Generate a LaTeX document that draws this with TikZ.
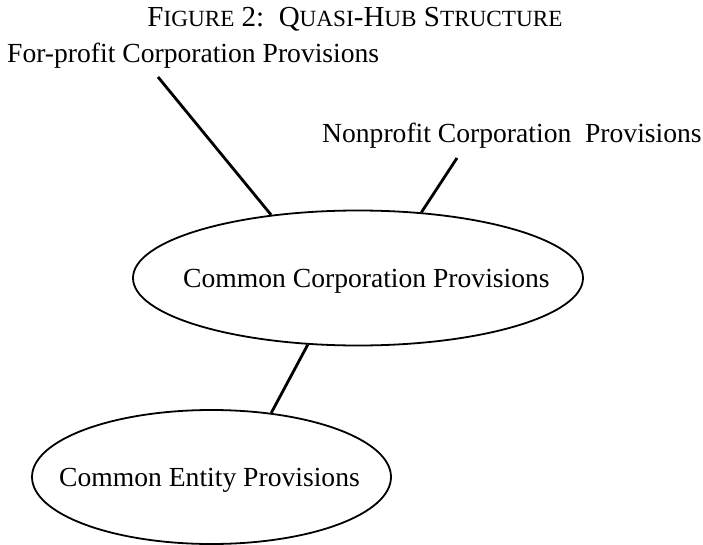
\documentclass[tikz,border=0pt]{standalone}
\usepackage{fontspec}
\setmainfont{Liberation Serif}
\usetikzlibrary{shapes.geometric}
\newcommand\tinysc[1]{{\fontsize{23.2}{26}\selectfont #1}}
\tikzset{
  lbl/.style={inner sep=0pt, font=\fontsize{27.6}{30}\selectfont},
  ttl/.style={inner sep=0pt, font=\fontsize{29}{32}\selectfont},
  oval/.style={ellipse, draw, line width=1.8pt, inner sep=0pt},
  link/.style={line width=2.8pt}
}
\begin{document}
\begin{tikzpicture}[x=1pt,y=-1pt]
\useasboundingbox (0,0) rectangle (703,545);
\node[ttl, anchor=base] (title) at (355,27) {F\tinysc{IGURE} 2:\ \ Q\tinysc{UASI}-H\tinysc{UB} S\tinysc{TRUCTURE}};
\node[lbl, anchor=base west] (fp) at (7,63) {For-profit Corporation Provisions};
\node[lbl, anchor=base west] (np) at (322,143) {Nonprofit Corporation\ \ Provisions};
\node[oval, minimum width=450pt, minimum height=135pt] (cc) at (358,278) {};
\node[lbl, anchor=base west] (cct) at (183,287) {Common Corporation Provisions};
\node[oval, minimum width=359pt, minimum height=134pt] (ce) at (211.5,477) {};
\node[lbl, anchor=base west] (cet) at (59,486) {Common Entity Provisions};
\coordinate (fpend) at (158,77);
\coordinate (npend) at (457,158);
\draw[link] (fpend) -- (cc.144);
\draw[link] (npend) -- (cc.46.3);
\draw[link] (cc.-127.8) -- (ce.47.3);
\end{tikzpicture}
\end{document}
